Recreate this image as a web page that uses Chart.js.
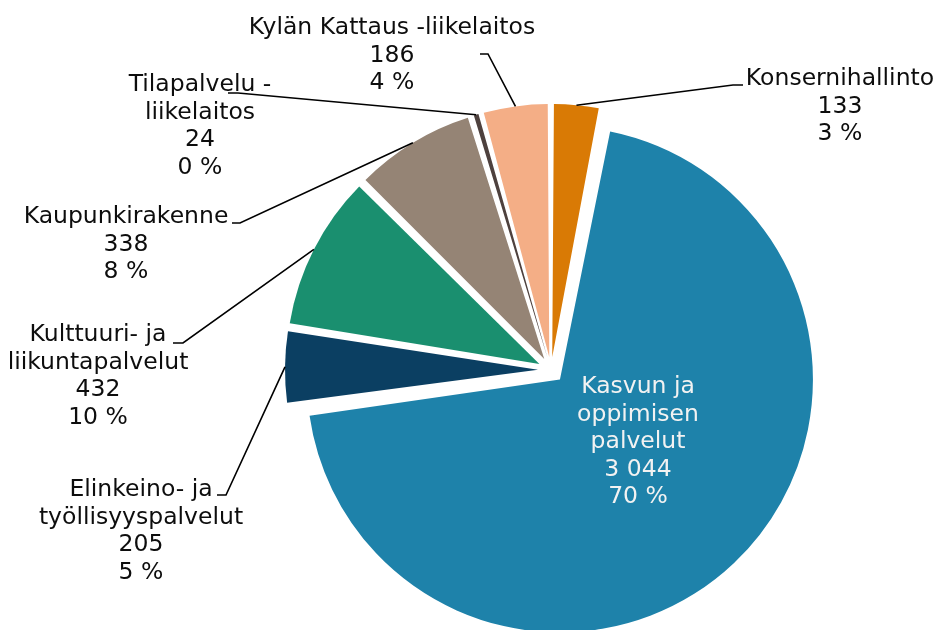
<!DOCTYPE html>
<html>
<head>
<meta charset="utf-8">
<script src="https://cdn.jsdelivr.net/npm/chart.js@4/dist/chart.umd.min.js"></script>
<style>
  html, body { margin: 0; padding: 0; background: #fff; }
  #wrap { width: 934px; height: 630px; }
</style>
</head>
<body>
<div id="wrap"><canvas id="pie"></canvas></div>
<script>
// data
const categories = [
  'Konsernihallinto',
  'Kasvun ja oppimisen palvelut',
  'Elinkeino- ja työllisyyspalvelut',
  'Kulttuuri- ja liikuntapalvelut',
  'Kaupunkirakenne',
  'Tilapalvelu -liikelaitos',
  'Kylän Kattaus -liikelaitos'
];
const values = [133, 3044, 205, 432, 338, 24, 186];
const percentLabels = ['3 %', '70 %', '5 %', '10 %', '8 %', '0 %', '4 %'];
// how the names wrap in the labels
const nameLines = [
  ['Konsernihallinto'],
  ['Kasvun ja', 'oppimisen', 'palvelut'],
  ['Elinkeino- ja', 'työllisyyspalvelut'],
  ['Kulttuuri- ja', 'liikuntapalvelut'],
  ['Kaupunkirakenne'],
  ['Tilapalvelu -', 'liikelaitos'],
  ['Kylän Kattaus -liikelaitos']
];
const colors = ['#D97A05', '#1E82AA', '#0B3F62', '#1A8F6F', '#958475', '#4E413E', '#F4AE86'];

// label placement (text centre x, first line centre y, leader elbow points)
const labelLayout = [
  {x: 840, y: 79, elbow: [[743, 85], [733, 85]]},
  {x: 638, y: 387, elbow: null, color: '#f2f2f2'},
  {x: 141, y: 490, elbow: [[217, 495], [226, 495]]},
  {x: 98, y: 335, elbow: [[173, 343], [183, 343]]},
  {x: 126, y: 217, elbow: [[232, 223], [240, 223]]},
  {x: 200, y: 85, elbow: [[228, 93], [238, 93]]},
  {x: 392, y: 28, elbow: [[480, 54], [488, 54]]}
];

const PIE_R = 253;
const EXPLODE = 13;   // px every slice is pushed out
const FONT = '23.5px "DejaVu Sans", Verdana, sans-serif';
const LINE_H = 27.5;

function fmt(v) {
  return String(v).replace(/\B(?=(\d{3})+(?!\d))/g, ' ');
}

// chart.js also grows the radius of offset arcs; undo that so every slice keeps PIE_R
const keepRadius = {
  id: 'keepRadius',
  beforeDatasetsDraw(chart) {
    const meta = chart.getDatasetMeta(0);
    const base = meta.controller.outerRadius;
    meta.data.forEach(arc => {
      const circ = arc.endAngle - arc.startAngle;
      const fix = 1 - Math.sin(Math.min(Math.PI, circ));
      arc.outerRadius = base - ((arc.options.offset || 0) / 4) * fix;
    });
  }
};

const pieLabels = {
  id: 'pieLabels',
  afterDatasetsDraw(chart) {
    const ctx = chart.ctx;
    const meta = chart.getDatasetMeta(0);
    ctx.save();
    ctx.font = FONT;
    ctx.textAlign = 'center';
    ctx.textBaseline = 'middle';
    meta.data.forEach((arc, i) => {
      const lay = labelLayout[i];
      const mid = (arc.startAngle + arc.endAngle) / 2;
      const r = meta.controller.outerRadius + (arc.options.offset || 0) / 4;
      if (lay.elbow) {
        ctx.strokeStyle = '#000';
        ctx.lineWidth = 1.6;
        ctx.beginPath();
        ctx.moveTo(arc.x + Math.cos(mid) * r, arc.y + Math.sin(mid) * r);
        for (let k = lay.elbow.length - 1; k >= 0; k--) {
          ctx.lineTo(lay.elbow[k][0], lay.elbow[k][1]);
        }
        ctx.stroke();
      }
      const lines = nameLines[i].concat([fmt(values[i]), percentLabels[i]]);
      ctx.fillStyle = lay.color || '#0d0d0d';
      lines.forEach((t, j) => ctx.fillText(t, lay.x, lay.y + j * LINE_H));
    });
    ctx.restore();
  }
};

new Chart(document.getElementById('pie'), {
  type: 'pie',
  data: {
    labels: categories,
    datasets: [{
      data: values,
      backgroundColor: colors,
      borderWidth: 0,
      offset: EXPLODE * 4,
      radius: PIE_R
    }]
  },
  options: {
    responsive: true,
    maintainAspectRatio: false,
    animation: false,
    events: [],
    layout: {padding: {left: 168, right: 0, top: 110, bottom: 0}},
    plugins: {
      legend: {display: false},
      tooltip: {enabled: false}
    }
  },
  plugins: [keepRadius, pieLabels]
});
</script>
</body>
</html>
